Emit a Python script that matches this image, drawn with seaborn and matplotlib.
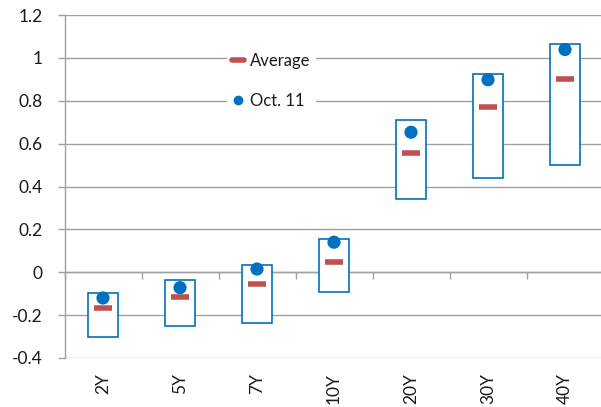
import matplotlib
matplotlib.use("Agg")
import matplotlib.pyplot as plt
from matplotlib.lines import Line2D
from matplotlib.markers import MarkerStyle
import numpy as np
import pandas as pd
import seaborn as sns

# Yield-curve points: historical range, historical average and the Oct. 11 reading
tenors = ["2Y", "5Y", "7Y", "10Y", "20Y", "30Y", "40Y"]
range_low = [-0.30, -0.25, -0.235, -0.093, 0.343, 0.438, 0.50]
range_high = [-0.095, -0.036, 0.035, 0.155, 0.708, 0.925, 1.067]
average = [-0.168, -0.115, -0.053, 0.048, 0.557, 0.769, 0.900]
oct11 = [-0.120, -0.072, 0.015, 0.140, 0.653, 0.898, 1.039]
y_ticks = [-0.4, -0.2, 0, 0.2, 0.4, 0.6, 0.8, 1, 1.2]
y_tick_labels = ["-0.4", "-0.2", "0", "0.2", "0.4", "0.6", "0.8", "1", "1.2"]

df = pd.DataFrame({"tenor": tenors, "low": range_low, "high": range_high,
                   "average": average, "oct11": oct11})

sns.set_style("white")
plt.rcParams["font.family"] = ["Lato", "DejaVu Sans"]
plt.rcParams["axes.unicode_minus"] = False

BLUE = "#0070C0"
RED = "#C0504D"
GRID = "#A0A0A0"
TEXT = "#1A1A1A"

fig = plt.figure(figsize=(6.01, 4.07), dpi=100)
ax = fig.add_axes([64.5 / 601, 1 - 358 / 407, 539 / 601, 343 / 407])

# Range boxes
ax.bar(df["tenor"], df["high"] - df["low"], bottom=df["low"], width=0.40,
       facecolor="white", edgecolor=BLUE, linewidth=1.2, zorder=3)

# Average dashes
dash = MarkerStyle("_", capstyle="round")
sns.scatterplot(data=df, x="tenor", y="average", marker=dash, s=150,
                linewidth=4.0, color=RED, edgecolor=RED, ax=ax, zorder=4,
                legend=False)
# Oct. 11 dots
sns.scatterplot(data=df, x="tenor", y="oct11", marker="o", s=90,
                color=BLUE, edgecolor="none", ax=ax, zorder=5, legend=False)

ax.set_xlim(-0.5, len(tenors) - 0.5)
ax.set_ylim(-0.4, 1.2)
ax.set_xlabel("")
ax.set_ylabel("")

ax.set_yticks(y_ticks)
ax.set_yticklabels(y_tick_labels)
ax.yaxis.grid(True, color=GRID, linewidth=1.0)
ax.set_axisbelow(True)
ax.tick_params(axis="y", which="major", left=True, length=5, width=1.0,
               color=GRID, pad=11, labelsize=12.5, labelcolor=TEXT)
ax.tick_params(axis="x", which="major", bottom=False, length=0, pad=11,
               labelsize=12.5, labelcolor=TEXT, labelrotation=90)

for side in ["top", "right", "bottom"]:
    ax.spines[side].set_visible(False)
ax.spines["left"].set_color(GRID)
ax.spines["left"].set_linewidth(1.0)

# Category axis crossing at zero, ticks between categories
zero_frac = (0 - (-0.4)) / (1.2 - (-0.4))
cat_axis = ax.secondary_xaxis(zero_frac)
cat_axis.set_xticks(np.arange(len(tenors) + 1) - 0.5)
cat_axis.set_xticklabels([])
cat_axis.tick_params(axis="x", direction="out", length=5, width=1.0, color=GRID)
cat_axis.spines["bottom"].set_color(GRID)
cat_axis.spines["bottom"].set_linewidth(1.0)
for side in ["top", "left", "right"]:
    cat_axis.spines[side].set_visible(False)

handles = [
    Line2D([], [], linestyle="none", marker=dash, markersize=8,
           markeredgewidth=4.0, color=RED, label="Average"),
    Line2D([], [], linestyle="none", marker="o", markersize=7,
           markeredgewidth=0, color=BLUE, label="Oct. 11"),
]
leg = ax.legend(handles=handles, loc="upper left",
                bbox_to_anchor=((227 - 64.5) / 539, 1 - (48 - 15) / 343),
                frameon=True, facecolor="white", edgecolor="none",
                framealpha=1.0, fontsize=12, handlelength=0.7,
                handletextpad=0.4, labelspacing=1.45, borderpad=0.3,
                borderaxespad=0)
for t in leg.get_texts():
    t.set_color(TEXT)

fig.savefig("out.png", dpi=100)
